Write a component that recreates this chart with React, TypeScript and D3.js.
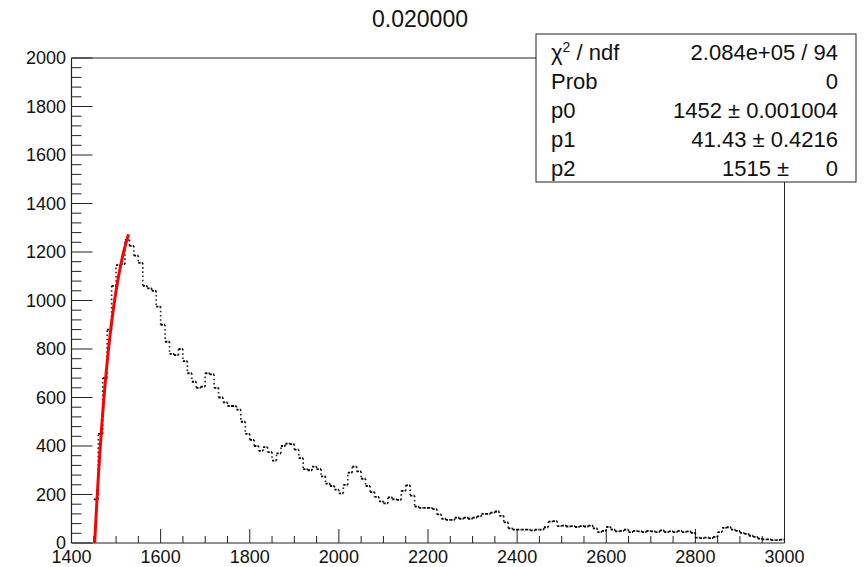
import React from "react";
import * as d3 from "d3";

// Histogram: 10-unit bins starting at 1400
const binStart = 1400;
const binWidth = 10;
const counts = [
  0, 0, 0, 0, 0,
  180, 450, 680, 880, 1060, 1146, 1150, 1250, 1225, 1185, 1155, 1060, 1050, 1040, 975,
  900, 830, 780, 775, 800, 750, 700, 665, 640, 645, 700, 695, 640, 600, 580, 565, 565, 550, 500, 450,
  425, 400, 380, 395, 375, 340, 370, 400, 410, 408, 385, 350, 305, 300, 315, 305, 275, 245, 235, 220,
  205, 240, 290, 315, 295, 265, 235, 210, 190, 172, 163, 188, 180, 178, 215, 238, 195, 150, 145, 145,
  145, 140, 118, 100, 95, 95, 105, 100, 105, 100, 105, 110, 120, 120, 125, 130, 112, 85, 60, 55,
  55, 55, 55, 52, 55, 55, 65, 88, 90, 70, 72, 68, 70, 66, 70, 68, 72, 60, 45, 50,
  66, 55, 48, 50, 55, 45, 50, 48, 45, 50, 48, 45, 52, 45, 48, 45, 50, 45, 48, 42,
  22, 20, 22, 20, 25, 45, 62, 65, 55, 50, 42, 38, 30, 25, 18, 15, 15, 12, 12, 14,
];

const xTicks = [1400, 1600, 1800, 2000, 2200, 2400, 2600, 2800, 3000];
const yTicks = [0, 200, 400, 600, 800, 1000, 1200, 1400, 1600, 1800, 2000];

// Fit parameters: f(x) = p2 * (1 - exp(-(x - p0) / p1))
const p0 = 1452;
const p1 = 41.43;
const p2 = 1515;
const fitEnd = 1528;

const title = "0.020000";
const statNames = ["Prob", "p0", "p1", "p2"];
const statValues = ["2.084e+05 / 94", "0", "1452 \u00b1 0.001004", "41.43 \u00b1 0.4216", "1515 \u00b1      0"];

const FONT = "'Liberation Sans', Arial, Helvetica, sans-serif";

export default function App() {
  const W = 867;
  const H = 567;
  const x = d3.scaleLinear().domain([1400, 3000]).range([71.5, 784.5]);
  const y = d3.scaleLinear().domain([0, 2000]).range([543, 58]);

  const xMinor = d3.range(1400, 3001, 50).filter((v) => v % 200 !== 0);
  const yMinor = d3.range(0, 2001, 40).filter((v) => v % 200 !== 0);

  const fitLine = d3
    .line<number>()
    .x((v) => x(v))
    .y((v) => y(p2 * (1 - Math.exp(-(v - p0) / p1))));
  const fitXs = d3.range(p0, fitEnd + 0.01, 0.5);

  // dotted step outline: horizontal segment per bin, dotted risers between neighbours
  const risers: { xe: number; a: number; b: number }[] = [];
  for (let i = 1; i < counts.length; i++) {
    const a = counts[i - 1];
    const b = counts[i];
    if (a > 0 && b > 0 && a !== b) risers.push({ xe: binStart + i * binWidth, a, b });
  }

  const statX0 = 536;
  const statY0 = 34;
  const statW = 320;
  const statH = 148;
  const rowBase = [59.5, 88.5, 117.5, 146.5, 175.5];

  return (
    <svg
      width={W}
      height={H}
      style={{ position: "absolute", left: 0, top: 0, background: "#fff" }}
      fontFamily={FONT}
    >
      <rect x={0} y={0} width={W} height={H} fill="#fff" />
      {/* frame */}
      <line x1={x(1400)} x2={x(3000)} y1={y(2000)} y2={y(2000)} stroke="#222" strokeWidth={1} />
      <line x1={x(3000)} x2={x(3000)} y1={y(2000)} y2={y(0)} stroke="#222" strokeWidth={1} />
      <line x1={x(1400)} x2={x(3000)} y1={y(0)} y2={y(0)} stroke="#222" strokeWidth={1.2} />
      <line x1={x(1400)} x2={x(1400)} y1={y(2000)} y2={y(0)} stroke="#222" strokeWidth={1.2} />

      {/* y ticks */}
      {yTicks.map((t) => (
        <g key={"yt" + t}>
          <line x1={x(1400)} x2={x(1400) + 21} y1={y(t)} y2={y(t)} stroke="#222" strokeWidth={1} />
          <text x={66} y={y(t)} dy="0.36em" textAnchor="end" fontSize={18} fill="#111">
            {t}
          </text>
        </g>
      ))}
      {yMinor.map((t) => (
        <line key={"ym" + t} x1={x(1400)} x2={x(1400) + 10} y1={y(t)} y2={y(t)} stroke="#222" strokeWidth={1} />
      ))}

      {/* x ticks */}
      {xTicks.map((t) => (
        <g key={"xt" + t}>
          <line x1={x(t)} x2={x(t)} y1={y(0)} y2={y(0) - 14} stroke="#222" strokeWidth={1} />
          <text x={x(t)} y={563} textAnchor="middle" fontSize={18} fill="#111">
            {t}
          </text>
        </g>
      ))}
      {xMinor.map((t) => (
        <line key={"xm" + t} x1={x(t)} x2={x(t)} y1={y(0)} y2={y(0) - 7} stroke="#222" strokeWidth={1} />
      ))}

      {/* histogram bins */}
      <g stroke="#000" strokeWidth={1.8} strokeDasharray="2.2,1.2">
        {counts.map((c, i) =>
          c > 0 ? (
            <line
              key={"b" + i}
              x1={x(binStart + i * binWidth)}
              x2={x(binStart + (i + 1) * binWidth)}
              y1={y(c)}
              y2={y(c)}
            />
          ) : null
        )}
      </g>
      <g stroke="#000" strokeWidth={1.6} strokeDasharray="1.6,2.6" opacity={0.85}>
        {risers.map((r, i) => (
          <line key={"r" + i} x1={x(r.xe)} x2={x(r.xe)} y1={y(r.a)} y2={y(r.b)} />
        ))}
      </g>

      {/* fit curve */}
      <path d={fitLine(fitXs) || ""} fill="none" stroke="#ff0000" strokeWidth={3} />

      {/* title */}
      <text x={420} y={27} textAnchor="middle" fontSize={23} fill="#111">
        {title}
      </text>

      {/* stats box */}
      <rect x={statX0} y={statY0} width={statW} height={statH} fill="#fff" stroke="#222" strokeWidth={1} />
      <text x={551} y={rowBase[0]} fontSize={22} fill="#111">
        {"\u03c7"}
        <tspan dy={-8} fontSize={14}>
          2
        </tspan>
        <tspan dy={8}>{" / ndf"}</tspan>
      </text>
      {statNames.map((n, i) => (
        <text key={n} x={551} y={rowBase[i + 1]} fontSize={22} fill="#111">
          {n}
        </text>
      ))}
      {statValues.map((v, i) => (
        <text
          key={"v" + i}
          x={838}
          y={rowBase[i]}
          fontSize={22}
          textAnchor="end"
          fill="#111"
          style={{ whiteSpace: "pre" }}
        >
          {v}
        </text>
      ))}
    </svg>
  );
}
